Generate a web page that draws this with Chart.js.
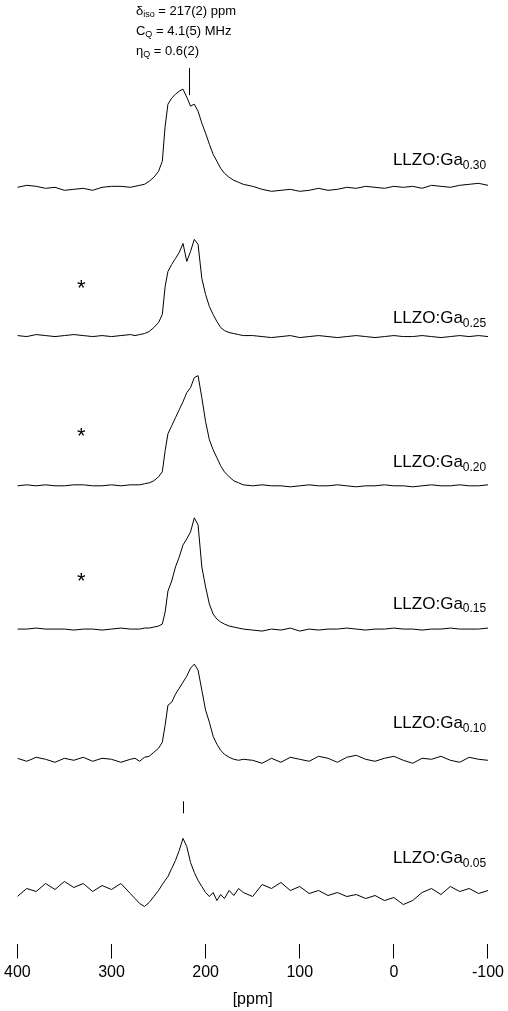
<!DOCTYPE html>
<html><head><meta charset="utf-8">
<script src="https://cdn.jsdelivr.net/npm/chart.js@4"></script>
<style>html,body{margin:0;padding:0;background:#fff}canvas{display:block}</style>
</head><body>
<canvas id="c" width="508" height="1011"></canvas>
<script>
// chemical shift grid (ppm)
const ppm = [400,390,380,370,360,350,340,330,320,310,300,290,280,
  275,270,265,260,255,250,246,243,240,236,232,228,224,220,216,212,208,204,200,196,192,188,184,180,175,170,165,160,
  150,140,130,120,110,100,90,80,70,60,50,40,30,20,10,0,-10,-20,-30,-40,-50,-60,-70,-80,-90,-100];

// intensities (arbitrary units) per sample
const specGa030 = [1,3,2,0,1,-2,-1,0,-2,1,2,2,1,
  2,3,4,7,11,17,27,62,84,90,94,97,99,91,82,84,77,65,55,44,34,27,20,15,11,8,6,4,
  2,-1,-3,-2,-1,-3,-2,0,-2,-1,1,0,2,1,0,2,1,2,0,3,2,1,3,4,5,3];
const specGa025 = [1,0,2,1,0,1,2,1,0,1,0,1,2,
  1,2,3,5,9,14,22,50,65,72,78,84,93,75,85,97,92,58,42,30,22,15,9,6,4,3,2,1,
  1,0,-1,0,1,-1,0,1,0,-1,0,1,0,-1,0,1,0,0,1,0,-1,0,1,0,1,0];
const specGa020 = [0,1,0,1,0,0,1,1,0,0,1,0,1,
  1,1,2,3,5,9,14,35,52,60,68,76,84,93,98,108,110,88,64,46,36,28,20,14,9,5,3,1,
  0,1,0,0,-1,0,1,0,0,1,0,-1,0,0,1,0,0,-1,0,1,0,0,1,0,0,1];
const specGa015 = [0,0,1,0,0,0,-1,0,0,-1,0,1,0,
  0,0,1,1,2,3,5,17,38,48,62,72,84,90,97,111,104,62,42,25,15,10,7,5,3,2,1,0,
  -1,-2,0,-1,1,-2,0,-1,0,0,1,0,-1,0,0,1,0,0,-1,0,0,1,0,0,0,1];
const specGa010 = [2,-1,3,1,-2,2,0,3,-1,2,1,-2,1,
  2,-1,3,4,8,12,18,35,55,58,66,72,78,84,92,96,90,70,50,38,24,16,10,6,3,1,0,1,
  0,-3,2,-2,3,1,-1,4,2,-2,3,5,1,-1,2,4,0,-3,2,1,4,0,-2,3,1,0];
const specGa005 = [2,10,7,15,9,17,11,15,7,13,9,15,5,
  0,-5,-8,-4,2,8,14,18,22,30,38,48,60,52,36,26,18,12,6,2,6,-2,4,0,8,3,10,6,
  2,14,10,16,8,12,5,8,3,6,2,4,0,3,-2,1,-6,-2,6,10,4,12,7,10,5,8];

const spectra = [specGa030, specGa025, specGa020, specGa015, specGa010, specGa005];
const offsets = [754, 606, 457, 314, 183, 45];
const sampleSub = ['0.30', '0.25', '0.20', '0.15', '0.10', '0.05'];
const labelY = [782, 624, 480, 339, 220, 85];
const asteriskRows = [1, 2, 3];
const asteriskPpm = 332;
const asteriskY = [654, 506, 361];
const tickValues = [400, 300, 200, 100, 0, -100];
const fitLines = [
  ['δ', 'iso', ' = 217(2) ppm'],
  ['C', 'Q', ' = 4.1(5) MHz'],
  ['η', 'Q', ' = 0.6(2)']
];
const fitPpm = 274;
const fitY = [931, 911, 891];
const markers = [[218, 874, 847], [224, 142, 130]];

const FONT = '"Liberation Sans", Arial, sans-serif';

const datasets = spectra.map((s, k) => ({
  data: ppm.map((p, i) => ({x: p, y: offsets[k] + s[i]})),
  borderColor: '#000', borderWidth: 1, pointRadius: 0, fill: false, tension: 0
}));

function drawSub(ctx, x, y, main, sub, rest, size) {
  ctx.font = size + 'px ' + FONT;
  ctx.fillText(main, x, y);
  x += ctx.measureText(main).width;
  ctx.font = Math.round(size * 0.7) + 'px ' + FONT;
  ctx.fillText(sub, x, y + size * 0.3);
  x += ctx.measureText(sub).width;
  ctx.font = size + 'px ' + FONT;
  ctx.fillText(rest, x, y);
}

const textPlugin = {
  id: 'texts',
  afterDatasetsDraw(chart) {
    const ctx = chart.ctx, xs = chart.scales.x, ys = chart.scales.y;
    ctx.save();
    ctx.fillStyle = '#000';
    ctx.strokeStyle = '#000';
    ctx.textBaseline = 'middle';
    ctx.textAlign = 'left';
    sampleSub.forEach((sub, k) => {
      drawSub(ctx, xs.getPixelForValue(1), ys.getPixelForValue(labelY[k]), 'LLZO:Ga', sub, '', 17);
    });
    fitLines.forEach((l, k) => {
      drawSub(ctx, xs.getPixelForValue(fitPpm), ys.getPixelForValue(fitY[k]), l[0], l[1], l[2], 13);
    });
    ctx.font = '22px ' + FONT;
    ctx.textAlign = 'center';
    asteriskRows.forEach((r, k) => {
      ctx.fillText('*', xs.getPixelForValue(asteriskPpm), ys.getPixelForValue(asteriskY[k]));
    });
    ctx.lineWidth = 1;
    markers.forEach(m => {
      const x = Math.round(xs.getPixelForValue(m[0])) + 0.5;
      ctx.beginPath();
      ctx.moveTo(x, ys.getPixelForValue(m[1]));
      ctx.lineTo(x, ys.getPixelForValue(m[2]));
      ctx.stroke();
    });
    ctx.restore();
  }
};

new Chart(document.getElementById('c'), {
  type: 'line',
  data: {datasets},
  options: {
    responsive: false, animation: false, devicePixelRatio: 1,
    layout: {padding: {left: 0, right: 12, top: 0, bottom: 2}},
    plugins: {legend: {display: false}, tooltip: {enabled: false}},
    scales: {
      x: {
        type: 'linear', min: -100, max: 400, reverse: true,
        afterBuildTicks: s => { s.ticks = tickValues.map(v => ({value: v})); },
        ticks: {font: {family: FONT, size: 16}, color: '#000', padding: 4, maxRotation: 0, autoSkip: false},
        grid: {drawOnChartArea: false, drawTicks: true, tickLength: 15, color: '#000', lineWidth: 1},
        border: {display: false},
        title: {display: true, text: '[ppm]', color: '#000', font: {family: FONT, size: 16}, padding: {top: 4, bottom: 0}}
      },
      y: {display: false, min: 0, max: 942}
    }
  },
  plugins: [textPlugin]
});
</script>
</body></html>
